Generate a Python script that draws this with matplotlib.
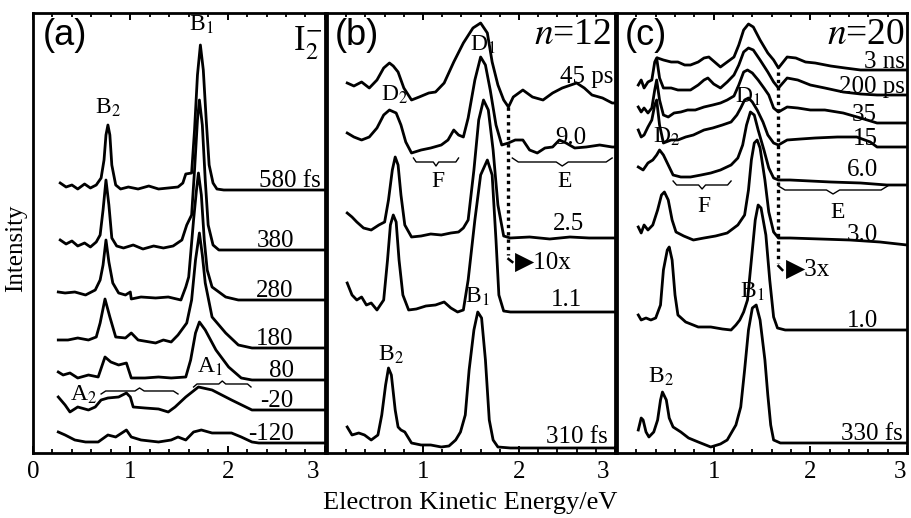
import matplotlib.pyplot as plt
from matplotlib.ticker import MultipleLocator, FixedLocator
from matplotlib.transforms import ScaledTranslation

plt.rcParams['font.family'] = ['Liberation Serif', 'DejaVu Sans']
plt.rcParams['mathtext.fontset'] = 'stix'

# ---- panel (a): I2-, intensity (arb. units) above each trace's baseline ----
a580_E = [0.28,0.34,0.40,0.46,0.53,0.59,0.65,0.70,0.73,0.75,0.77,0.79,0.81,0.85,0.90,0.98,1.08,1.19,1.29,1.39,1.49,1.54,1.57,1.63,1.66,1.69,1.72,1.75,1.78,1.81,1.85,1.89,1.96,3.0]
a580_I = [7,3,5,1,6,2,5,12,30,55,65,55,25,5,1,3,1,4,1,2,3,7,16,17,60,115,145,120,70,25,7,1,0,0]
a380_E = [0.28,0.34,0.40,0.46,0.53,0.59,0.65,0.69,0.72,0.75,0.78,0.81,0.86,0.93,1.03,1.13,1.24,1.34,1.44,1.53,1.58,1.63,1.66,1.69,1.71,1.74,1.77,1.80,1.85,1.91,3.0]
a380_I = [10,6,9,4,7,3,8,15,40,70,45,12,4,2,5,1,4,2,4,10,25,35,80,130,150,125,70,25,5,0,0]
a280_E = [0.26,0.33,0.43,0.54,0.64,0.69,0.72,0.75,0.78,0.82,0.88,0.95,1.00,1.01,1.11,1.26,1.39,1.52,1.57,1.60,1.65,1.68,1.70,1.73,1.76,1.79,1.84,1.98,2.11,3.0]
a280_I = [8,7,8,5,10,20,35,60,38,17,7,5,8,1,3,2,3,0,13,23,80,110,127,105,60,30,13,3,0,0]
a180_E = [0.26,0.36,0.46,0.57,0.65,0.69,0.74,0.79,0.85,0.95,1.01,1.08,1.26,1.34,1.42,1.49,1.58,1.63,1.67,1.71,1.74,1.77,1.84,1.98,2.11,2.25,3.0]
a180_I = [8,8,10,8,11,25,49,31,11,10,15,8,5,8,6,13,25,48,88,115,93,65,31,15,3,0,0]
a80_E = [0.26,0.31,0.38,0.46,0.57,0.67,0.74,0.80,0.88,0.96,1.01,1.15,1.29,1.42,1.57,1.62,1.67,1.71,1.77,1.88,2.01,2.14,2.25,3.0]
a80_I = [8,5,7,2,5,3,23,18,15,17,2,2,3,2,3,20,47,58,50,30,13,2,0,0]
am20_E = [0.26,0.33,0.38,0.46,0.57,0.64,0.70,0.77,0.88,0.96,1.00,1.03,1.15,1.29,1.39,1.46,1.57,1.70,1.84,2.04,2.25,3.0]
am20_I = [13,5,-2,3,0,3,10,12,13,17,13,3,2,1,-2,3,13,23,20,10,0,0]
am120_E = [0.26,0.33,0.43,0.54,0.67,0.77,0.85,0.96,1.01,1.11,1.29,1.42,1.49,1.57,1.65,1.73,1.84,2.04,2.14,2.25,2.32,3.0]
am120_I = [11,8,3,1,1,8,6,13,6,3,1,3,6,3,11,13,10,10,6,1,0,0]
a_labels = ['580 fs', '380', '280', '180', '80', '-20', '-120']
a_offsets = [263, 203, 153, 105, 73, 43, 10]

# ---- panel (b): n=12 ----
b45_E = [0.21,0.28,0.36,0.44,0.52,0.59,0.65,0.69,0.74,0.80,0.88,0.96,1.06,1.13,1.22,1.32,1.42,1.52,1.60,1.67,1.72,1.78,1.84,1.89,1.94,2.04,2.14,2.25,2.35,2.45,2.60,2.68,2.76,2.87,2.97,3.0]
b45_I = [17,14,18,12,20,32,37,34,28,12,0,3,7,8,17,38,57,72,77,67,38,15,0,-7,3,10,3,0,7,12,17,12,5,2,-3,-3]
b9_E = [0.21,0.28,0.36,0.44,0.52,0.59,0.65,0.72,0.77,0.82,0.88,0.98,1.08,1.19,1.26,1.32,1.37,1.42,1.47,1.54,1.60,1.65,1.70,1.76,1.82,1.89,1.96,2.04,2.11,2.19,2.27,2.35,2.42,2.49,2.58,2.70,2.84,2.97,3.0]
b9_I = [14,10,7,10,19,32,37,34,22,5,-6,-3,-1,2,7,17,12,10,29,67,90,82,57,22,2,4,7,7,-3,-6,-1,0,7,4,-1,0,2,0,0]
b25_E = [0.21,0.26,0.31,0.38,0.46,0.54,0.60,0.64,0.68,0.71,0.74,0.77,0.81,0.88,0.98,1.08,1.19,1.29,1.37,1.42,1.47,1.53,1.58,1.63,1.68,1.73,1.78,1.84,1.91,2.11,2.32,2.53,2.73,3.0]
b25_I = [25,21,16,10,8,13,16,38,68,81,73,43,13,1,2,4,3,5,6,10,18,68,118,138,128,88,33,2,0,1,-1,1,0,0]
b11_E = [0.21,0.26,0.31,0.36,0.41,0.46,0.52,0.59,0.63,0.66,0.69,0.72,0.75,0.79,0.85,0.93,1.03,1.13,1.22,1.29,1.36,1.42,1.47,1.54,1.60,1.67,1.72,1.76,1.79,1.84,1.91,3.0]
b11_I = [29,17,12,15,7,9,2,12,52,87,97,90,52,17,2,3,6,7,10,4,0,2,32,92,137,152,137,72,17,1,0,0]
b310_E = [0.21,0.26,0.33,0.39,0.46,0.53,0.57,0.61,0.64,0.67,0.71,0.74,0.77,0.81,0.88,0.98,1.08,1.19,1.27,1.34,1.39,1.44,1.48,1.53,1.57,1.61,1.65,1.69,1.73,1.78,1.91,3.0]
b310_I = [21,13,15,13,8,13,33,63,80,73,38,21,18,16,5,3,3,1,2,8,16,33,78,118,136,130,88,28,8,1,0,0]
b_labels = ['45 ps', '9.0', '2.5', '1.1', '310 fs']
b_offsets = [353, 306, 215, 141, 5]

# ---- panel (c): n=20 ----
c3ns_E = [0.42,0.48,0.56,0.63,0.70,0.76,0.84,0.90,0.95,1.01,1.07,1.14,1.21,1.26,1.31,1.36,1.41,1.48,1.56,1.62,1.67,1.76,1.85,1.95,2.05,2.21,2.36,2.52,2.69,3.0]
c3ns_I = [12,10,8,8,5,5,8,12,13,8,3,8,13,25,40,46,43,30,17,10,2,13,12,8,7,4,2,0,0,0]
c200_E = [0.22,0.25,0.28,0.32,0.36,0.39,0.41,0.44,0.48,0.56,0.63,0.70,0.76,0.84,0.90,0.94,1.00,1.07,1.14,1.21,1.26,1.31,1.36,1.41,1.48,1.56,1.62,1.67,1.76,1.87,2.00,2.15,2.34,2.52,2.69,3.0]
c200_I = [10,15,7,13,15,33,37,17,7,7,5,5,5,10,15,17,11,7,13,20,30,43,47,45,35,23,13,7,17,15,10,7,3,1,0,0]
c35_E = [0.22,0.25,0.28,0.32,0.36,0.39,0.41,0.44,0.48,0.53,0.59,0.66,0.73,0.81,0.90,0.99,1.07,1.14,1.21,1.26,1.31,1.35,1.40,1.46,1.52,1.57,1.62,1.67,1.76,1.87,2.00,2.15,2.34,2.52,2.69,3.0]
c35_I = [16,11,15,10,15,33,43,23,8,6,10,11,13,13,16,18,20,23,27,38,51,53,50,43,35,28,15,11,16,15,13,13,10,5,0,0]
c15_E = [0.22,0.25,0.28,0.32,0.36,0.39,0.41,0.44,0.48,0.56,0.63,0.71,0.79,0.90,0.99,1.09,1.18,1.24,1.28,1.32,1.36,1.40,1.45,1.51,1.56,1.62,1.67,1.76,1.90,2.05,2.28,2.48,2.62,2.69,3.0]
c15_I = [17,10,12,20,27,42,47,22,4,7,7,10,12,17,19,22,25,32,39,47,49,45,37,25,12,4,2,7,8,9,10,10,5,0,0]
c6_E = [0.22,0.27,0.32,0.37,0.41,0.44,0.48,0.53,0.58,0.66,0.76,0.87,0.97,1.07,1.18,1.25,1.30,1.34,1.38,1.42,1.46,1.52,1.57,1.62,1.67,1.79,2.00,2.21,2.52,2.79,3.0]
c6_I = [16,13,20,23,28,33,28,18,8,6,6,8,10,13,18,25,38,58,71,68,53,33,15,5,3,3,2,1,0,-2,-2]
c3_E = [0.22,0.25,0.28,0.32,0.37,0.42,0.46,0.49,0.53,0.57,0.61,0.69,0.79,0.90,1.02,1.14,1.25,1.32,1.36,1.39,1.42,1.45,1.48,1.53,1.57,1.62,1.67,1.79,2.10,2.41,2.72,3.0]
c3_I = [13,7,15,10,15,30,45,48,40,20,8,4,0,2,4,7,15,25,50,80,97,100,92,60,28,8,2,2,1,0,-2,-5]
c1_E = [0.22,0.25,0.30,0.35,0.40,0.45,0.48,0.52,0.54,0.57,0.60,0.63,0.71,0.84,0.97,1.09,1.18,1.23,1.27,1.31,1.35,1.39,1.43,1.46,1.49,1.54,1.58,1.62,1.66,1.74,3.0]
c1_I = [15,10,12,10,12,25,60,80,83,70,35,15,8,3,3,1,0,5,10,18,30,70,110,125,122,95,50,13,2,0,0]
c330_E = [0.22,0.25,0.27,0.30,0.33,0.38,0.42,0.45,0.47,0.51,0.54,0.58,0.66,0.74,0.84,0.97,1.07,1.14,1.23,1.28,1.32,1.36,1.40,1.44,1.48,1.53,1.56,1.59,1.62,1.69,3.0]
c330_I = [13,25,23,11,6,11,23,43,51,43,25,16,11,5,1,-4,-1,3,18,36,73,113,135,138,123,83,48,18,3,0,0]
c_labels = ['3 ns', '200 ps', '35', '15', '6.0', '3.0', '1.0', '330 fs']
c_offsets = [383, 358, 330, 306, 270, 213, 123, 10]

SANS = ['Liberation Sans', 'DejaVu Sans']
FS = 18      # trace labels / ticks
FS_ANN = 17  # peak labels


def brace(ax, x0, x1, y, h):
    xm = (x0 + x1) / 2
    d = (x1 - x0) * 0.06
    ax.plot([x0, x0 + d, xm - d, xm, xm + d, x1 - d, x1],
            [y + h, y, y, y - h, y, y, y + h], color='k', lw=1.0)


fig = plt.figure(figsize=(9.11, 5.18), dpi=100)
bot, hgt = 0.1255, 0.8494
ax_a = fig.add_axes([0.0362, bot, 0.3205, hgt])
ax_b = fig.add_axes([0.3590, bot, 0.3161, hgt])
ax_c = fig.add_axes([0.6773, bot, 0.3183, hgt])

for ax in (ax_a, ax_b, ax_c):
    ax.set_xlim(0, 3)
    ax.set_ylim(0, 440)
    ax.set_yticks([])
    ax.xaxis.set_minor_locator(MultipleLocator(0.2))
    ax.tick_params(axis='x', which='both', direction='in', top=True, bottom=True)
    ax.tick_params(axis='x', which='major', length=5, width=1.4, labelsize=FS, pad=6)
    ax.tick_params(axis='x', which='minor', length=3, width=1.3)
    for s in ax.spines.values():
        s.set_linewidth(2.0)

ax_a.xaxis.set_major_locator(FixedLocator([0, 1, 2, 3]))
ax_b.xaxis.set_major_locator(FixedLocator([1, 2, 3]))
ax_c.xaxis.set_major_locator(FixedLocator([1, 2, 3]))
fig.canvas.draw()
# the last "3" label sits a little left of its tick in the original
for ax, dx in ((ax_a, -0.12), (ax_b, -0.12), (ax_c, -0.07)):
    lab = ax.get_xticklabels()[-1]
    lab.set_transform(lab.get_transform() + ScaledTranslation(dx, 0, fig.dpi_scale_trans))

lw = 2.0

# panel (a)
a_E = [a580_E, a380_E, a280_E, a180_E, a80_E, am20_E, am120_E]
a_I = [a580_I, a380_I, a280_I, a180_I, a80_I, am20_I, am120_I]
for E, I, off in zip(a_E, a_I, a_offsets):
    ax_a.plot(E, [v + off for v in I], color='k', lw=lw, solid_joinstyle='round')
a_lx = [2.96, 2.68, 2.68, 2.68, 2.68, 2.68, 2.68]
for txt, off, x in zip(a_labels, a_offsets, a_lx):
    ax_a.text(x, off + 3, txt, ha='right', va='baseline', fontsize=FS)
ax_a.text(0.1, 418, '(a)', family=SANS, fontsize=26, ha='left', va='center')
ax_a.text(2.97, 410, r'I$_2^{-}$', fontsize=25, ha='right', va='center')
ax_a.text(0.77, 345, r'B$_2$', fontsize=FS_ANN, ha='center', va='center')
ax_a.text(1.73, 428, r'B$_1$', fontsize=FS_ANN, ha='center', va='center')
ax_a.text(0.52, 58, r'A$_2$', fontsize=FS_ANN, ha='center', va='center')
ax_a.text(1.82, 86, r'A$_1$', fontsize=FS_ANN, ha='center', va='center')
brace(ax_a, 0.70, 1.49, 62, -3)
brace(ax_a, 1.65, 2.24, 69, -3)

# panel (b)
b_E = [b45_E, b9_E, b25_E, b11_E, b310_E]
b_I = [b45_I, b9_I, b25_I, b11_I, b310_I]
for E, I, off in zip(b_E, b_I, b_offsets):
    ax_b.plot(E, [v + off for v in I], color='k', lw=lw, solid_joinstyle='round')
b_lx = [2.98, 2.70, 2.68, 2.66, 2.92]
b_ly = [370, 309, 223, 147, 10]
for txt, x, y in zip(b_labels, b_lx, b_ly):
    ax_b.text(x, y, txt, ha='right', va='baseline', fontsize=FS)
ax_b.text(0.08, 418, '(b)', family=SANS, fontsize=26, ha='left', va='center')
ax_b.text(2.96, 418, r'$n$=12', fontsize=27, ha='right', va='center')
ax_b.text(0.70, 358, r'D$_2$', fontsize=FS_ANN, ha='center', va='center')
ax_b.text(1.62, 408, r'D$_1$', fontsize=FS_ANN, ha='center', va='center')
ax_b.text(0.67, 98, r'B$_2$', fontsize=FS_ANN, ha='center', va='center')
ax_b.text(1.57, 156, r'B$_1$', fontsize=FS_ANN, ha='center', va='center')
brace(ax_b, 0.90, 1.37, 291, 4)
brace(ax_b, 1.93, 2.97, 291, 4)
ax_b.text(1.15, 271, 'F', fontsize=FS_ANN, ha='center', va='center')
ax_b.text(2.47, 271, 'E', fontsize=FS_ANN, ha='center', va='center')
ax_b.plot([1.89, 1.89], [346, 198], color='k', lw=2.4, ls=(0, (1, 1.2)))
ax_b.plot([1.89, 1.93], [194, 191], color='k', lw=1.8)
ax_b.text(1.96, 190, '\u25b610x', fontsize=FS, ha='left', va='center')

# panel (c)
c_E = [c3ns_E, c200_E, c35_E, c15_E, c6_E, c3_E, c1_E, c330_E]
c_I = [c3ns_I, c200_I, c35_I, c15_I, c6_I, c3_I, c1_I, c330_I]
for E, I, off in zip(c_E, c_I, c_offsets):
    ax_c.plot(E, [v + off for v in I], color='k', lw=lw, solid_joinstyle='round')
c_lx = [2.98, 2.98, 2.69, 2.70, 2.70, 2.70, 2.70, 2.96]
c_ly = [385, 360, 332, 308, 277, 212, 126, 13]
for txt, x, y in zip(c_labels, c_lx, c_ly):
    ax_c.text(x, y, txt, ha='right', va='baseline', fontsize=FS)
ax_c.text(0.08, 418, '(c)', family=SANS, fontsize=26, ha='left', va='center')
ax_c.text(2.98, 418, r'$n$=20', fontsize=27, ha='right', va='center')
ax_c.text(0.51, 316, r'D$_2$', fontsize=FS_ANN, ha='center', va='center')
ax_c.text(1.36, 356, r'D$_1$', fontsize=FS_ANN, ha='center', va='center')
ax_c.text(0.45, 76, r'B$_2$', fontsize=FS_ANN, ha='center', va='center')
ax_c.text(1.40, 161, r'B$_1$', fontsize=FS_ANN, ha='center', va='center')
brace(ax_c, 0.58, 1.18, 268, 4)
brace(ax_c, 1.67, 2.80, 263, 4)
ax_c.text(0.90, 246, 'F', fontsize=FS_ANN, ha='center', va='center')
ax_c.text(2.28, 240, 'E', fontsize=FS_ANN, ha='center', va='center')
ax_c.plot([1.67, 1.67], [381, 190], color='k', lw=2.4, ls=(0, (1, 1.2)))
ax_c.plot([1.67, 1.71], [187, 183], color='k', lw=1.8)
ax_c.text(1.75, 183, '\u25b63x', fontsize=FS, ha='left', va='center')

fig.text(0.018, 0.52, 'Intensity', rotation=90, fontsize=18, ha='center', va='center')
fig.text(0.516, 0.028, 'Electron Kinetic Energy/eV', fontsize=19, ha='center', va='center')

fig.savefig('out.png', dpi=100)
